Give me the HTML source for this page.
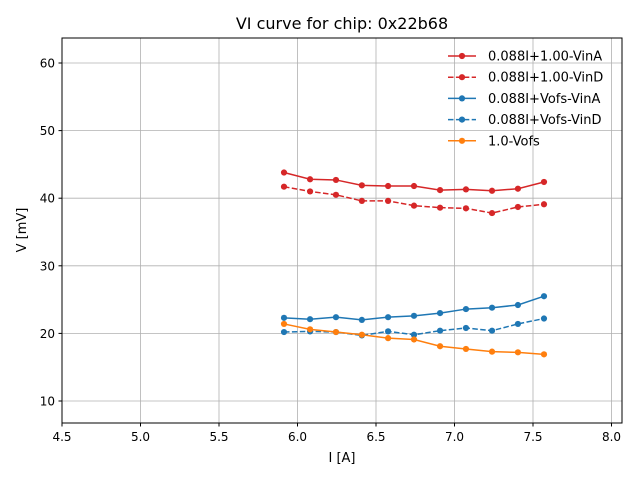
<!DOCTYPE html>
<html><head><meta charset="utf-8"><style>
body{margin:0;background:#fff}
svg text{font-family:"DejaVu Sans","Liberation Sans",sans-serif;fill:#000}
</style></head><body>
<svg id="chart" width="640" height="480" xmlns="http://www.w3.org/2000/svg">
<rect width="640" height="480" fill="#fff"/>
<text x="342" y="29" font-size="16" text-anchor="middle">VI curve for chip: 0x22b68</text>
<g id="grid"></g>
<g id="series"></g>
<rect x="62" y="38" width="560" height="385" fill="none" stroke="#000" stroke-width="1"/>
<g id="ticks"></g>
<text x="342" y="462" font-size="13" text-anchor="middle">I [A]</text>
<text x="26" y="230" font-size="13" text-anchor="middle" transform="rotate(-90 26 230)">V [mV]</text>
<g id="legend"></g>
</svg>
<script>
const currents=[5.914,6.08,6.245,6.41,6.577,6.742,6.908,7.073,7.239,7.404,7.57];
const vinA100=[43.8,42.8,42.7,41.9,41.8,41.8,41.2,41.3,41.1,41.4,42.4];
const vinD100=[41.7,41.0,40.5,39.6,39.6,38.9,38.6,38.5,37.8,38.7,39.1];
const vinAofs=[22.3,22.1,22.4,22.0,22.4,22.6,23.0,23.6,23.8,24.2,25.5];
const vinDofs=[20.2,20.3,20.2,19.7,20.3,19.8,20.4,20.8,20.4,21.4,22.2];
const vofs=[21.4,20.6,20.2,19.8,19.3,19.1,18.1,17.7,17.3,17.2,16.9];
const xTicks=[4.5,5.0,5.5,6.0,6.5,7.0,7.5,8.0];
const yTicks=[10,20,30,40,50,60];
const seriesNames=["0.088I+1.00-VinA","0.088I+1.00-VinD","0.088I+Vofs-VinA","0.088I+Vofs-VinD","1.0-Vofs"];

const NS="http://www.w3.org/2000/svg";
const X=v=>62+(v-4.5)*157;
const Y=v=>401-(v-10)*6.76;
function mk(tag,attrs,parent){const e=document.createElementNS(NS,tag);for(const k in attrs)e.setAttribute(k,attrs[k]);parent.appendChild(e);return e;}
const grid=document.getElementById('grid'),ticks=document.getElementById('ticks'),ser=document.getElementById('series'),leg=document.getElementById('legend');
xTicks.forEach(t=>{const x=X(t);
 const g=mk('line',{x1:x,x2:x,y1:38,y2:423,stroke:'#b0b0b0','stroke-width':0.8},grid);
 
 
 mk('line',{x1:x,x2:x,y1:423,y2:426.5,stroke:'#000'},ticks);
 const tx=mk('text',{x:x,y:441,'font-size':12,'text-anchor':'middle'},ticks);tx.textContent=t.toFixed(1);
 
 
});
yTicks.forEach(t=>{const y=Y(t);
 const g=mk('line',{x1:62,x2:622,y1:y,y2:y,stroke:'#b0b0b0','stroke-width':0.8},grid);
 
 
 mk('line',{x1:58.5,x2:62,y1:y,y2:y,stroke:'#000'},ticks);
 const tx=mk('text',{x:55,y:y+4.5,'font-size':12,'text-anchor':'end'},ticks);tx.textContent=t;
 
 
});
const defs=[[vinA100,'#d62728',''],[vinD100,'#d62728','5.5,2.4'],[vinAofs,'#1f77b4',''],[vinDofs,'#1f77b4','5.5,2.4'],[vofs,'#ff7f0e','']];
defs.forEach((d,i)=>{
 const g=mk('g',{},ser);
 
 
 mk('polyline',{points:d[0].map((v,j)=>X(currents[j])+','+Y(v)).join(' '),fill:'none',stroke:d[1],'stroke-width':1.5,'stroke-dasharray':d[2]},g);
 d[0].forEach((v,j)=>{const c=mk('circle',{cx:X(currents[j]),cy:Y(v),r:3.1,fill:d[1]},g);
  
  });
 const ly=56+i*21.2;
 const le=mk('g',{},leg);
 
 
 mk('line',{x1:448,x2:476,y1:ly,y2:ly,stroke:d[1],'stroke-width':1.5,'stroke-dasharray':d[2]},le);
 mk('circle',{cx:462,cy:ly,r:3.1,fill:d[1]},le);
 const t=mk('text',{x:488,y:ly+4.5,'font-size':13},le);t.textContent=seriesNames[i];
});
</script>
</body></html>
